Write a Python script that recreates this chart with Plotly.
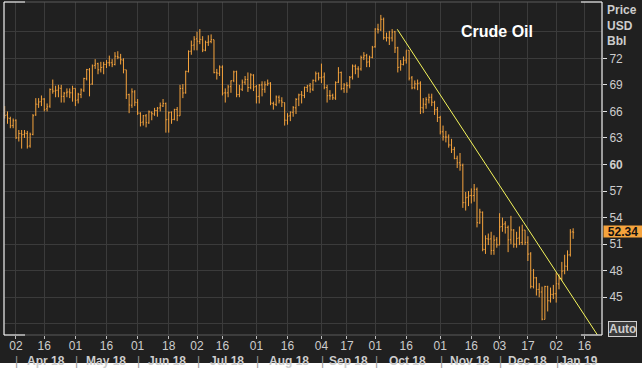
import pandas as pd
import plotly.graph_objects as go

# ---------------- data (WTI crude, daily OHLC) ----------------
holidays = ["2018-03-30", "2018-05-28", "2018-07-04", "2018-09-03",
            "2018-11-22", "2018-12-25", "2019-01-01", "2019-01-21"]
first_day = "2018-03-26"

opens = [
    65.9, 65.6, 65.2, 64.4,
    65.0, 63.0, 63.5, 63.4, 63.5, 62.1, 63.4, 65.6, 66.8, 67.1, 67.4, 66.3, 66.6, 68.5, 68.3, 68.4, 68.6, 67.7, 68.1, 68.2, 68.1,
    68.6, 67.3, 67.9, 68.4, 69.7, 70.7, 69.1, 71.2, 71.4, 70.7, 71.0, 71.3, 71.5, 71.5, 71.3, 72.2, 72.1, 71.8, 70.7, 67.9, 66.7, 68.2,
    67.0, 65.8, 64.8, 65.5, 64.7, 65.9, 65.7, 66.1, 66.4, 66.6, 66.9, 65.1, 65.9, 65.1, 66.2, 65.5, 68.6, 68.1, 70.5, 72.8, 73.5,
    74.2, 73.9, 74.1, 72.9, 73.8, 73.9, 74.1, 70.4, 70.3, 71.0, 68.1, 68.1, 68.8, 69.5, 70.5, 67.9, 68.5, 69.3, 69.6, 68.7, 70.1,
    68.8, 67.7, 69.0, 68.5, 69.0, 69.2, 66.9, 66.8, 67.6, 67.2, 67.0, 65.0, 65.5, 65.9, 66.4, 67.4, 67.9, 67.8, 68.7, 68.9, 68.5, 69.5, 70.3,
    69.8, 69.9, 68.7, 67.8, 67.8, 67.5, 69.3, 70.4, 68.6, 69.0, 68.9, 69.9, 71.1, 70.8, 70.8, 72.1, 72.3, 71.6, 72.1,
    73.3, 75.3, 75.2, 76.4, 74.3, 74.3, 74.3, 75.0, 73.2, 71.0, 71.3, 71.8, 72.9, 69.8, 68.7, 69.1, 69.2, 66.4, 66.8, 67.3, 67.6, 67.0, 66.2,
    65.3, 63.7, 63.1, 63.1, 62.2, 61.7, 60.7, 60.2, 59.9, 55.7, 56.3, 56.5, 56.5, 57.2, 53.4, 54.6, 50.4, 51.6, 51.6, 50.3, 51.5,
    50.9, 53.0, 53.3, 52.9, 51.5, 52.6, 51.0, 51.7, 51.2, 52.6, 51.2, 49.9, 46.2, 47.2, 45.9, 45.6, 42.5, 46.2, 44.6, 45.3,
    45.4, 46.5, 47.1, 48.0, 48.5, 49.8, 52.4,
]
highs = [
    66.6, 66.0, 65.4, 65.2,
    65.1, 63.9, 63.9, 63.9, 63.8, 63.6, 65.7, 67.5, 67.5, 67.8, 67.5, 66.9, 68.6, 69.6, 68.9, 69.0, 69.0, 68.2, 68.6, 68.6, 68.9,
    68.6, 68.1, 68.6, 69.8, 70.8, 70.9, 71.3, 71.9, 71.5, 71.6, 71.6, 71.8, 72.3, 71.9, 72.7, 72.8, 72.5, 72.0, 70.7, 68.0, 68.6, 68.4,
    67.4, 65.9, 65.6, 65.7, 66.1, 66.0, 66.4, 66.5, 67.0, 67.4, 67.0, 66.0, 66.0, 66.3, 66.5, 69.0, 69.1, 70.6, 72.9, 74.0, 74.5,
    75.0, 75.3, 74.5, 74.0, 74.6, 74.7, 74.1, 70.8, 71.2, 71.2, 68.6, 69.0, 69.5, 70.6, 70.6, 69.0, 69.6, 70.0, 70.4, 70.3, 70.2,
    69.0, 69.1, 69.4, 69.4, 69.6, 69.3, 67.1, 67.8, 67.8, 67.6, 67.0, 65.8, 66.0, 66.6, 67.5, 68.0, 68.3, 68.8, 69.0, 69.2, 69.6, 70.5, 70.4,
    71.4, 70.4, 69.0, 68.4, 68.0, 69.4, 71.0, 70.5, 69.2, 69.3, 70.0, 71.3, 71.3, 71.1, 72.3, 72.7, 72.5, 72.3, 73.4,
    75.4, 75.9, 76.9, 76.6, 74.9, 75.1, 75.3, 75.1, 73.3, 71.8, 72.2, 72.9, 72.9, 70.0, 69.5, 69.6, 69.4, 67.5, 67.6, 68.0, 68.0, 67.2, 66.5,
    65.5, 64.4, 63.8, 63.4, 62.9, 62.0, 61.0, 61.3, 60.1, 56.9, 57.0, 57.3, 57.8, 57.4, 55.0, 54.7, 52.0, 52.2, 52.4, 52.0, 51.8,
    54.5, 54.0, 53.6, 53.1, 54.2, 52.7, 52.4, 53.0, 53.2, 52.6, 51.9, 50.1, 48.2, 47.3, 46.6, 46.2, 46.3, 46.3, 46.1, 46.4,
    47.8, 47.6, 49.0, 49.8, 50.3, 52.7, 52.8,
]
lows = [
    65.2, 64.6, 64.1, 64.1,
    62.9, 62.6, 61.8, 63.0, 61.8, 61.9, 63.3, 65.5, 66.4, 66.6, 66.0, 66.0, 66.4, 68.0, 67.6, 67.6, 67.0, 67.0, 67.6, 67.5, 67.1,
    66.6, 66.9, 67.5, 68.2, 69.5, 67.7, 69.0, 70.8, 70.2, 70.4, 70.2, 70.9, 71.1, 71.0, 71.2, 71.9, 71.3, 70.3, 67.4, 65.8, 66.4, 66.6,
    65.6, 64.3, 64.4, 64.2, 64.6, 65.0, 65.5, 65.4, 66.0, 66.5, 63.6, 63.6, 64.6, 65.0, 64.9, 65.5, 67.5, 68.0, 70.4, 72.4, 72.9,
    72.9, 73.6, 72.7, 72.8, 73.4, 73.7, 70.3, 69.6, 70.0, 67.8, 67.0, 67.6, 68.1, 69.3, 67.6, 67.6, 68.3, 69.0, 68.2, 68.5, 68.3,
    66.9, 66.9, 67.7, 68.1, 68.9, 66.7, 66.2, 66.6, 66.9, 66.5, 64.4, 64.5, 64.9, 65.4, 65.7, 66.6, 66.9, 67.5, 68.2, 68.1, 68.3, 69.3, 69.5,
    69.2, 68.5, 67.0, 67.3, 67.3, 67.3, 69.2, 68.4, 68.1, 68.1, 68.6, 69.6, 70.2, 69.8, 70.6, 71.8, 71.0, 71.0, 72.0,
    73.2, 74.8, 75.1, 74.1, 73.9, 73.5, 73.9, 72.6, 70.4, 70.6, 71.2, 71.4, 69.5, 68.5, 68.5, 68.4, 65.7, 65.8, 66.3, 66.9, 66.6, 65.6, 64.8,
    63.4, 62.7, 62.5, 61.9, 61.3, 60.6, 59.6, 59.3, 55.1, 54.8, 55.3, 55.6, 55.8, 52.9, 53.3, 50.2, 49.9, 50.9, 49.8, 49.8, 50.6,
    50.9, 52.4, 52.2, 50.1, 51.0, 50.6, 50.6, 50.9, 50.9, 50.9, 49.1, 46.0, 46.0, 45.2, 45.0, 42.4, 42.5, 43.4, 44.4, 44.8,
    44.4, 45.9, 46.9, 47.6, 48.0, 49.6, 51.6,
]
closes = [
    65.55, 65.25, 64.38, 64.94,
    63.01, 63.51, 63.37, 63.54, 62.06, 63.42, 65.51, 66.82, 67.07, 67.39, 66.22, 66.52, 68.47, 68.29, 68.38, 68.64, 67.70, 68.05, 68.19, 68.10, 68.57,
    67.25, 67.93, 68.43, 69.72, 70.73, 69.06, 71.14, 71.36, 70.70, 70.96, 71.31, 71.49, 71.49, 71.28, 72.24, 72.13, 71.84, 70.71, 67.88, 66.73, 68.21, 67.04,
    65.81, 64.75, 65.52, 64.73, 65.95, 65.74, 66.10, 66.36, 66.64, 66.89, 65.06, 65.85, 65.07, 66.22, 65.54, 68.58, 68.08, 70.53, 72.76, 73.45, 74.15,
    73.94, 74.14, 72.94, 73.80, 73.85, 74.11, 70.38, 70.33, 71.01, 68.06, 68.08, 68.76, 69.46, 70.46, 67.89, 68.52, 69.30, 69.61, 68.69, 70.13, 68.76,
    67.66, 68.96, 68.49, 69.01, 69.17, 66.94, 66.81, 67.63, 67.20, 67.04, 65.01, 65.46, 65.91, 66.43, 67.35, 67.86, 67.83, 68.72, 68.87, 68.53, 69.51, 70.25, 69.80,
    69.87, 68.72, 67.77, 67.75, 67.54, 69.25, 70.37, 68.59, 68.99, 68.91, 69.85, 71.12, 70.80, 70.78, 72.08, 72.28, 71.57, 72.12, 73.25,
    75.30, 75.23, 76.41, 74.33, 74.34, 74.29, 74.96, 73.17, 70.97, 71.34, 71.78, 72.92, 69.75, 68.65, 69.12, 69.17, 66.43, 66.82, 67.33, 67.59, 67.04, 66.18, 65.31,
    63.69, 63.14, 63.10, 62.21, 61.67, 60.67, 60.19, 59.93, 55.69, 56.25, 56.46, 56.46, 57.20, 53.43, 54.63, 50.42, 51.63, 51.56, 50.29, 51.45, 50.93,
    52.95, 53.25, 52.89, 51.49, 52.61, 51.00, 51.65, 51.15, 52.58, 51.20, 49.88, 46.24, 47.20, 45.88, 45.59, 42.53, 46.22, 44.61, 45.33, 45.41,
    46.54, 47.09, 47.96, 48.52, 49.78, 52.36, 52.34,
]
last_price = "52.34"

tick_dates = ["2018-04-02", "2018-04-16", "2018-05-01", "2018-05-16", "2018-06-01", "2018-06-18",
              "2018-07-02", "2018-07-16", "2018-08-01", "2018-08-16", "2018-09-04", "2018-09-17",
              "2018-10-01", "2018-10-16", "2018-11-01", "2018-11-16", "2018-12-03", "2018-12-17",
              "2019-01-02", "2019-01-16"]
month_starts = ["2018-04-02", "2018-05-01", "2018-06-01", "2018-07-02", "2018-08-01",
                "2018-09-04", "2018-10-01", "2018-11-01", "2018-12-03", "2019-01-02"]
month_labels = ["Apr 18", "May 18", "Jun 18", "Jul 18", "Aug 18",
                "Sep 18", "Oct 18", "Nov 18", "Dec 18", "Jan 19"]
price_ticks = [45, 48, 51, 54, 57, 60, 63, 66, 69, 72]
extra_grid = [42, 75]

# trend line (trading-day index, price)
trend_idx = [138.8, 209.6]
trend_px = [75.28, 40.74]

assert len(opens) == len(highs) == len(lows) == len(closes) == 202

# ---------------- calendar / positions ----------------
cal = pd.bdate_range(first_day, "2019-02-15", freq="C", holidays=holidays)
pos = {d.strftime("%Y-%m-%d"): i for i, d in enumerate(cal)}
xs = list(range(len(closes)))
x_range = [-0.24, 211.2]
y_range = [40.74, 78.36]

BG = "#202020"
GRID = "#3b3b3b"
TXT = "#cdcdcd"
ORANGE = "#f5a33d"
FONT = "Arial, Liberation Sans, sans-serif"

fig = go.Figure()
fig.add_trace(go.Ohlc(
    x=xs, open=opens, high=highs, low=lows, close=closes,
    increasing=dict(line=dict(color=ORANGE, width=1)),
    decreasing=dict(line=dict(color=ORANGE, width=1)),
    tickwidth=0.35, hoverinfo="skip", showlegend=False,
))
fig.add_trace(go.Scatter(
    x=trend_idx, y=trend_px, mode="lines",
    line=dict(color="#f6f65c", width=1), hoverinfo="skip", showlegend=False,
))

annotations = []
MONTH_Y = -0.077
ends = [pos[m] for m in month_starts[1:]] + [x_range[1]]
for m, lab, e in zip(month_starts, month_labels, ends):
    s = pos[m]
    annotations.append(dict(x=(s + e) / 2, y=MONTH_Y, xref="x", yref="paper",
                            text="<b>%s</b>" % lab, showarrow=False,
                            font=dict(family=FONT, size=12, color=TXT),
                            xanchor="center", yanchor="middle"))
    annotations.append(dict(x=s, y=MONTH_Y, xref="x", yref="paper", xshift=1,
                            text="|", showarrow=False,
                            font=dict(family=FONT, size=12, color="#9a9a9a"),
                            xanchor="center", yanchor="middle"))

annotations += [
    dict(x=0.761, y=0.91, xref="paper", yref="paper", text="<b>Crude Oil</b>",
         showarrow=False, xanchor="left", yanchor="middle",
         font=dict(family=FONT, size=16, color="#ffffff")),
    dict(x=1.005, y=1.004, xref="paper", yref="paper",
         text="<b>Price</b><br><b>USD</b><br><b>Bbl</b>", align="left",
         showarrow=False, xanchor="left", yanchor="top",
         font=dict(family=FONT, size=12, color=TXT)),
    dict(x=1.0, y=float(last_price), xref="paper", yref="y", text="<b>%s</b>" % last_price,
         showarrow=False, xanchor="left", yanchor="middle", xshift=1, yshift=1,
         bgcolor=ORANGE, width=38, height=11, borderpad=0,
         font=dict(family=FONT, size=12, color="#111111")),
    dict(x=1.035, y=0.0195, xref="paper", yref="paper", text="<b>Auto</b>",
         showarrow=False, xanchor="center", yanchor="middle",
         bgcolor="#3a3a3a", bordercolor="#cfcfcf", borderwidth=1, borderpad=0,
         font=dict(family=FONT, size=12, color=TXT)),
]

cw = 21 / 598.0
shapes = [
    dict(type="rect", xref="paper", yref="paper", x0=0, x1=1, y0=0, y1=1,
         line=dict(color="#5a5a5a", width=1), layer="above"),
    dict(type="line", xref="paper", yref="paper", x0=0, x1=0, y0=0, y1=1,
         line=dict(color="#ffffff", width=1), layer="above"),
    dict(type="line", xref="paper", yref="paper", x0=1, x1=1, y0=0, y1=1,
         line=dict(color="#ffffff", width=1), layer="above"),
    dict(type="line", xref="paper", yref="paper", x0=0, x1=cw, y0=1, y1=1,
         line=dict(color="#ffffff", width=1), layer="above"),
    dict(type="line", xref="paper", yref="paper", x0=1 - cw, x1=1, y0=1, y1=1,
         line=dict(color="#ffffff", width=1), layer="above"),
    dict(type="line", xref="paper", yref="paper", x0=0, x1=cw, y0=0, y1=0,
         line=dict(color="#ffffff", width=1), layer="above"),
    dict(type="line", xref="paper", yref="paper", x0=1 - cw, x1=1, y0=0, y1=0,
         line=dict(color="#ffffff", width=1), layer="above"),
    # white strip at the very bottom of the image
    dict(type="rect", xref="paper", yref="paper", x0=-0.05, x1=1.1,
         y0=-0.2, y1=-0.0841, fillcolor="#ffffff", line=dict(width=0), layer="above"),
]

fig.update_layout(
    width=642, height=372,
    margin=dict(l=4, r=40, t=2, b=37),
    paper_bgcolor=BG, plot_bgcolor=BG,
    font=dict(family=FONT, size=12, color=TXT),
    showlegend=False,
    annotations=annotations,
    shapes=shapes,
    xaxis=dict(
        range=x_range, rangeslider=dict(visible=False),
        tickmode="array", tickvals=[pos[d] for d in tick_dates],
        ticktext=[d[-2:] for d in tick_dates],
        ticks="outside", ticklen=3, tickcolor="#bdbdbd", tickwidth=1,
        ticklabelstandoff=-3,
        tickfont=dict(family=FONT, size=12, color=TXT),
        showgrid=True, gridcolor=GRID, gridwidth=1,
        zeroline=False, showline=False, fixedrange=True,
    ),
    yaxis=dict(
        side="right", range=y_range,
        tickmode="array", tickvals=price_ticks,
        ticktext=["<b>60</b>" if v == 60 else str(v) for v in price_ticks],
        ticks="outside", ticklen=4, tickcolor="#e0e0e0", tickwidth=1,
        tickfont=dict(family=FONT, size=12, color=TXT),
        showgrid=True, gridcolor=GRID, gridwidth=1,
        minor=dict(tickvals=extra_grid, showgrid=True, gridcolor=GRID, ticks=""),
        zeroline=False, showline=False, fixedrange=True,
    ),
)

fig.write_html("out.html", config={"displayModeBar": False},
               post_script="document.body.style.margin='0';")
